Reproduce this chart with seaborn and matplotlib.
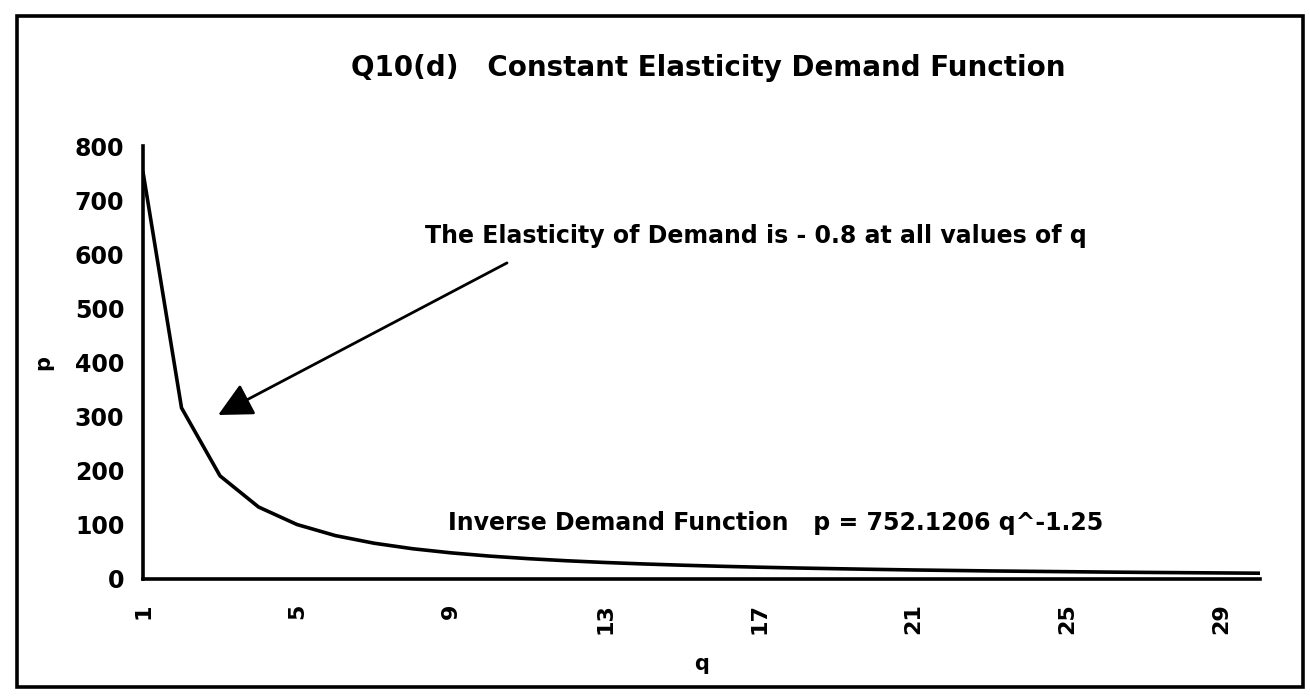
import matplotlib
matplotlib.use("Agg")
import matplotlib.pyplot as plt
import seaborn as sns
import pandas as pd
from matplotlib.patches import Rectangle

# ---- data ----
q = list(range(1, 31))
p = [752.1, 316.2, 190.5, 133.0, 100.6, 80.1, 66.1, 55.9, 48.3, 42.3,
     37.6, 33.7, 30.5, 27.8, 25.5, 23.5, 21.8, 20.3, 19.0, 17.8,
     16.7, 15.8, 14.9, 14.2, 13.5, 12.8, 12.2, 11.7, 11.2, 10.7]
x_ticks = [1, 5, 9, 13, 17, 21, 25, 29]
y_ticks = [0, 100, 200, 300, 400, 500, 600, 700, 800]
title_text = "Q10(d)   Constant Elasticity Demand Function"
note_elasticity = "The Elasticity of Demand is - 0.8 at all values of q"
note_function = "Inverse Demand Function   p = 752.1206 q^-1.25"
x_label = "q"
y_label = "p"

df = pd.DataFrame({"q": q, "p": p})

sns.set_style("white")
plt.rcParams["font.family"] = ["DejaVu Sans"]
plt.rcParams["text.color"] = "black"
plt.rcParams["axes.labelcolor"] = "black"
plt.rcParams["xtick.color"] = "black"
plt.rcParams["ytick.color"] = "black"

fig = plt.figure(figsize=(13.1, 7), dpi=100)
W, H = 1310, 700
ax = fig.add_axes([143 / W, 1 - 579 / H, (1260 - 143) / W, (579 - 146) / H])

sns.lineplot(data=df, x="q", y="p", ax=ax, color="black", linewidth=2.6)

ax.set_xlim(1, 30)
ax.set_ylim(0, 800)
ax.set_xticks(x_ticks)
ax.set_xticklabels([str(v) for v in x_ticks], rotation=90, fontsize=16, fontweight="bold")
ax.set_yticks(y_ticks)
ax.set_yticklabels([str(v) for v in y_ticks], fontsize=17, fontweight="bold")
ax.tick_params(axis="both", direction="inout", length=11, width=2, color="black",
               labelcolor="black")
ax.tick_params(axis="x", pad=12)
ax.tick_params(axis="y", pad=8)

for s in ["top", "right"]:
    ax.spines[s].set_visible(False)
for s in ["left", "bottom"]:
    ax.spines[s].set_color("black")
    ax.spines[s].set_linewidth(2.6)

ax.set_xlabel(x_label, fontsize=15, fontweight="bold", color="black")
ax.set_ylabel(y_label, fontsize=15, fontweight="bold", color="black")
ax.xaxis.set_label_coords(0.5, -0.173)
ax.yaxis.set_label_coords(-0.0806, 0.5)

fig.text(708 / W, 1 - 68 / H, title_text, ha="center", va="center",
         fontsize=20, fontweight="bold", color="black")

ax.text(8.32, 634, note_elasticity, ha="left", va="center", fontsize=17,
        fontweight="bold", color="black")
ax.text(8.92, 103.5, note_function, ha="left", va="center", fontsize=17,
        fontweight="bold", color="black")

ax.annotate("", xy=(2.95, 303), xytext=(10.45, 584),
            arrowprops=dict(arrowstyle="-|>,head_length=0.6,head_width=0.3",
                            color="black", lw=2, mutation_scale=35,
                            shrinkA=0, shrinkB=0))

fig.patches.append(Rectangle((17 / W, 1 - 687 / H), (1303 - 17) / W, (687 - 16) / H,
                             transform=fig.transFigure, fill=False,
                             edgecolor="black", linewidth=2.6))

fig.savefig("out.png", dpi=100, facecolor="white")
